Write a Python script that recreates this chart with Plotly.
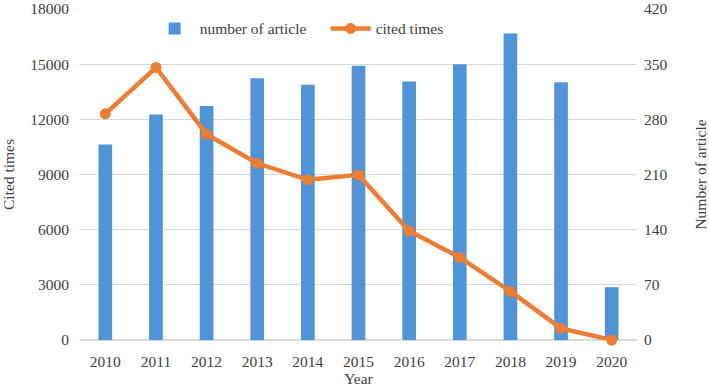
import plotly.graph_objects as go

years = ["2010", "2011", "2012", "2013", "2014", "2015", "2016", "2017", "2018", "2019", "2020"]
articles = [248, 286, 297, 332, 324, 348, 328, 350, 389, 327, 67]
cited = [12300, 14820, 11190, 9610, 8710, 8980, 5930, 4490, 2640, 630, 0]

left_ticks = [0, 3000, 6000, 9000, 12000, 15000, 18000]
left_labels = ["0", "3000", "6000", "9000", "12000", "15000", "18000"]
right_ticks = [0, 70, 140, 210, 280, 350, 420]
right_labels = ["0", "70", "140", "210", "280", "350", "420"]

font_family = "Liberation Serif, Times New Roman, serif"
txt = "#404040"
fs = 15.5

fig = go.Figure()
fig.add_trace(go.Bar(
    x=years, y=articles, name="number of article",
    marker=dict(color="#4F93D8", line=dict(width=0)),
    width=0.27, yaxis="y",
))
fig.add_trace(go.Scatter(
    x=years, y=cited, name="cited times", mode="lines+markers",
    line=dict(color="#ED7D31", width=4.5),
    marker=dict(color="#ED7D31", size=11),
    yaxis="y2", cliponaxis=False,
))

fig.update_layout(
    width=709, height=387,
    margin=dict(l=80, r=72, t=9, b=47, autoexpand=False),
    paper_bgcolor="white", plot_bgcolor="white",
    font=dict(family=font_family, size=fs, color=txt),
    showlegend=True,
    legend=dict(orientation="h", x=0.125, y=0.94, xanchor="left", yanchor="middle",
                bgcolor="rgba(0,0,0,0)", font=dict(size=fs, color=txt),
                itemwidth=40, entrywidth=121, traceorder="normal"),
    xaxis=dict(type="category", range=[-0.5, 10.5], showgrid=False, showline=False, ticks="",
               automargin=False, ticklabelstandoff=10,
               title=dict(text="Year", font=dict(size=fs), standoff=4),
               tickfont=dict(size=fs)),
    yaxis=dict(side="right", range=[0, 420], tickvals=right_ticks, ticktext=right_labels,
               showgrid=True, gridcolor="#D9D9D9", gridwidth=1,
               zeroline=True, zerolinecolor="#D9D9D9", zerolinewidth=1.5,
               showline=False, ticks="", tickfont=dict(size=fs), automargin=False,
               ticklabelstandoff=6, ticklabeloverflow="allow",
               title=dict(text="Number of article", font=dict(size=fs), standoff=30)),
    yaxis2=dict(side="left", overlaying="y", range=[0, 18000],
                tickvals=left_ticks, ticktext=left_labels,
                showgrid=False, zeroline=False, showline=False, ticks="",
                tickfont=dict(size=fs), automargin=False, ticklabelstandoff=10,
                ticklabeloverflow="allow",
                title=dict(text="Cited times", font=dict(size=fs), standoff=24)),
)

fig.write_html("out.html", config={"displayModeBar": False},
               post_script="document.body.style.margin='0';")
